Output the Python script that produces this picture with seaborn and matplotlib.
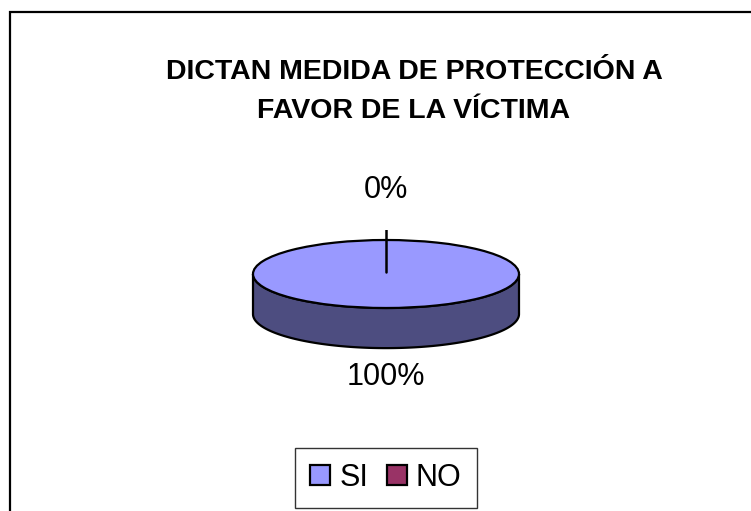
import numpy as np
import matplotlib
matplotlib.use('Agg')
import matplotlib.pyplot as plt
from matplotlib.patches import Rectangle
import seaborn as sns

# datos
categorias = ['SI', 'NO']
valores = [100, 0]
titulo = 'DICTAN MEDIDA DE PROTECCIÓN A\nFAVOR DE LA VÍCTIMA'

sns.set_theme(style='white')
plt.rcParams['font.family'] = ['Liberation Sans', 'DejaVu Sans']
plt.rcParams['text.color'] = 'black'

colores = sns.color_palette(['#9999FF', '#993366'])
W, H = 751, 511
fig = plt.figure(figsize=(W / 100, H / 100), dpi=100)
fig.patch.set_facecolor('white')

# marco del grafico
fig.patches.append(Rectangle((10 / W, -0.05), 1.2, 1 - 12 / H + 0.05,
                             transform=fig.transFigure, fill=False,
                             edgecolor='black', linewidth=1.6, zorder=0))

# ejes: 1 unidad = 133 px horizontal, 34 px vertical
cx, cy, rx, ry = 386, 274, 133, 34
xlim = (-1.05, 1.05)
ylim = (-2.4, 1.3)
ax_w = (xlim[1] - xlim[0]) * rx
ax_h = (ylim[1] - ylim[0]) * ry
left = (cx + xlim[0] * rx) / W
bottom = 1 - (cy - ylim[0] * ry) / H
ax = fig.add_axes([left, bottom, ax_w / W, ax_h / H])

profundidad = 1.18
wedges, _ = ax.pie(valores, colors=colores, startangle=90, counterclock=False,
                   wedgeprops=dict(edgecolor='black', linewidth=1.6))
for w in wedges:
    w.set_zorder(3)
    if w.theta2 - w.theta1 < 1e-9:
        w.set_linewidth(0)

# lateral (cara frontal del "pastel 3D")
t = np.linspace(180, 360, 200)
for w, c in zip(wedges, colores):
    span = w.theta2 - w.theta1
    if span <= 0:
        continue
    sel = t[((t - w.theta1) % 360 <= span + 1e-9) | (span >= 360)]
    if len(sel) == 0:
        continue
    rad = np.radians(sel)
    xs = np.cos(rad)
    ys = np.sin(rad)
    px = np.concatenate([xs, xs[::-1]])
    py = np.concatenate([ys, ys[::-1] - profundidad])
    side = tuple(np.array(c) * 0.5)
    ax.fill(px, py, color=side, edgecolor='black', linewidth=1.6, zorder=2)

# etiquetas de porcentaje
total = sum(valores)
ax.plot([0, 0], [0.06, 1.44], color='black', linewidth=1.8, zorder=4)
ax.text(0, 2.47, f'{valores[1] / total * 100:.0f}%', ha='center', va='center',
        fontsize=22, color='black')
ax.text(0, -3.03, f'{valores[0] / total * 100:.0f}%', ha='center', va='center',
        fontsize=22, color='black')

ax.set_aspect('auto')
ax.set_xlim(*xlim)
ax.set_ylim(*ylim)
ax.axis('off')

fig.text(414 / W, 1 - 91 / H, titulo, ha='center', va='center', fontsize=20.5,
         fontweight='bold', linespacing=1.65, color='black')

handles = [Rectangle((0, 0), 1, 1, facecolor=c, edgecolor='black', linewidth=1.6)
           for c in colores]
leg = fig.legend(handles, categorias, loc='center', bbox_to_anchor=(386 / W, 1 - 478 / H),
                 ncol=2, fontsize=22, frameon=True, fancybox=False,
                 handlelength=0.65, handleheight=0.65, handletextpad=0.3,
                 columnspacing=0.6, borderpad=0.5, borderaxespad=0)
for txt in leg.get_texts():
    txt.set_color('black')
leg.get_frame().set_edgecolor('black')
leg.get_frame().set_linewidth(1.0)

fig.savefig('out.png', dpi=100, facecolor='white')
